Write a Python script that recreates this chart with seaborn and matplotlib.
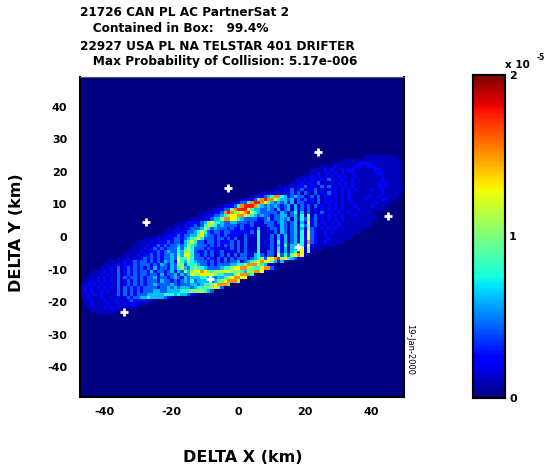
import numpy as np
import pandas as pd
import seaborn as sns
import matplotlib.pyplot as plt

sns.set_style("white")
plt.rcParams['font.family'] = ['DejaVu Sans']
plt.rcParams['font.weight'] = 'bold'
plt.rcParams['text.color'] = 'black'
plt.rcParams['xtick.labelcolor'] = 'black'
plt.rcParams['ytick.labelcolor'] = 'black'

# density, one digit per 1 km cell, "." = ten empty cells
first_row = 24
density_rows = [
    ". . . . . . . . 0000011111 1111100",
    ". . . . . . . 0000000011 1111111111 1111110",
    ". . . . . . . 0000011111 1112222111 1111110",
    ". . . . . . 0000000000 0011112111 1122112221 1111110",
    ". . . . . . 0000000001 1112121121 2211111122 1111110",
    ". . . . . . 0000000011 1211212121 1211111112 2111110",
    ". . . . . . 0000001112 1212121212 1121111111 2111110",
    ". . . . . . 0000111212 2121312121 1211111111 2111110",
    ". . . . . . 0001122122 1312121212 1211111112 1211110",
    ". . . . . 0000000001 1112122312 2131312122 1211111112 1211111",
    ". . . . . 0000000011 1213123122 3121212121 2121111211 2111111",
    ". . . . . 0000111122 1223231321 3121312121 2111111111 2111110",
    ". . . . 0000000000 0112234588 5423433123 1312212121 2111112112 1111100",
    ". . . . 0000000011 2235898875 4434232312 1312121121 2111121111 2211100",
    ". . . . 0000111233 5899875434 3424133212 1312212121 1211111121 1110000",
    ". . . . 0112223589 9985434343 2342413231 3121212121 1121111211 1100000",
    ". . . 0000000001 1223368999 7544334324 2341423131 2121212121 1112111111 1000000",
    ". . . 0000000111 2238986678 9754333332 4313524131 2131221211 2111111100",
    ". . . 0000011122 3345677887 6543433233 4423415161 3121212121 1121111110",
    ". . . 0001111223 4468877543 3332234233 4341425362 3121212121 1111111110",
    ". . 0000000001 1122223467 5543344333 2322133323 4313414272 3122121211 1111111000",
    ". . 0000000011 1212323576 5343333232 2321123322 4313415362 3112121211 1111111000",
    ". . 0000001112 1223334653 4333232232 2214112332 4313414263 2121212111 1111100000",
    ". . 0000011122 2233457532 3323322222 1315112131 4313425273 2112121111 1111000000",
    ". . 0001112223 2334467433 2323222213 1215111314 2413415273 2112111111 1100000000",
    ". 0000000001 1112122233 2345675333 2332323113 1115112314 2413425273 2111211111 1000000000",
    ". 0000000111 1212223233 2457533233 2322231313 1115121315 2413425283 2112111110",
    ". 0000001111 2123232334 3465433323 2323231313 1115112314 2514415272 1111111000",
    ". 0000011112 1232323335 3575333232 2212131313 2115111315 2414427261 1110000000",
    ". 0000111121 2223234335 4665322323 2231221313 1215113315 2424527161 1000000000",
    ". 0001111212 2323233436 4775332323 1231313133 2145313317 3536787110",
    "0000000001 0111212123 2323233437 5575333232 1323131333 2345637789 6754321000",
    "0000000011 1112123233 2323243427 5465433323 2323133423 4567877642 4100000000",
    "0000000111 1212123233 3232432436 6355543323 2333344556 8886542100",
    "0000001112 1312323232 3242332435 6435655433 3345567788 6655788310",
    "0000111212 1312323233 2423323424 3646778765 6677766654 6688710000",
    "0001112121 1312323233 2332423342 4347667777 6554446788 8500000000",
    "0011121212 1313233232 3342332343 2434445544 3445678877",
    "0112121212 1312323232 3332433232 3435344443 4567888600",
    "1121212121 1312323232 3343333432 3334434556 7888500000",
    "1212121212 1313232323 3332334343 4443455666 7630000000",
    "1212112121 1313132323 3344334444 5556666543",
    "1121212111 2313232333 4444455545 4432100000",
    "1121112112 1212323344 5444432100",
    "0112111211 2121232222 1100000000",
    "0112111121 1212122111",
    "0011111212 1211111000",
    "0001111111 1110000000",
    "0000011111",
]
# digit -> fraction of the colour scale
digit_levels = [0, 0.055, 0.13, 0.22, 0.31, 0.40, 0.52, 0.64, 0.76, 0.88]
scale_max = 2e-5

# white + marks
cross_x = [24, -3, -27.5, 45, 18, -8.5, -34]
cross_y = [26, 15, 4.6, 6.5, -3, -13, -23]

x_ticks = [-40, -20, 0, 20, 40]
y_ticks = [40, 30, 20, 10, 0, -10, -20, -30, -40]
cbar_ticks = [0, 1, 2]

title_lines = ["21726 CAN PL AC PartnerSat 2",
               "   Contained in Box:   99.4%",
               "22927 USA PL NA TELSTAR 401 DRIFTER",
               "   Max Probability of Collision: 5.17e-006"]

W, H = 545, 470
x_min, x_max = -47.3, 49.7
y_min, y_max = -49.2, 49.2
n_cols, n_rows = 97, 98

grid = np.zeros((n_rows, n_cols))
for i, r in enumerate(density_rows):
    cells = r.replace(" ", "").replace(".", "0" * 10).ljust(n_cols, "0")[:n_cols]
    grid[first_row + i] = [digit_levels[int(c)] * scale_max for c in cells]
density = pd.DataFrame(grid)


def to_col(x):
    return (np.asarray(x) - x_min) / (x_max - x_min) * n_cols


def to_row(y):
    return (y_max - np.asarray(y)) / (y_max - y_min) * n_rows


def box(left, top, right, bottom):
    return [left / W, 1 - bottom / H, (right - left) / W, (bottom - top) / H]


fig = plt.figure(figsize=(W / 100, H / 100), dpi=100)
ax = fig.add_axes(box(80, 77, 404, 397))
cax = fig.add_axes(box(473, 75, 505, 398))

sns.heatmap(density, ax=ax, cbar_ax=cax, cmap="jet", vmin=0, vmax=scale_max,
            xticklabels=False, yticklabels=False)

ax.plot(to_col(cross_x), to_row(cross_y), linestyle="none", marker="+",
        color="white", markersize=6, markeredgewidth=2)

ax.set_xticks(to_col(x_ticks))
ax.set_xticklabels(x_ticks, fontsize=8, fontweight="bold")
ax.set_yticks(to_row(y_ticks))
ax.set_yticklabels(y_ticks, fontsize=8, fontweight="bold", rotation=0)
ax.tick_params(direction="in", length=3, width=0.8, color="black", top=True, right=True,
               bottom=True, left=True)
ax.tick_params(axis="x", pad=7)
ax.tick_params(axis="y", pad=9)
for side, spine in ax.spines.items():
    spine.set_visible(True)
    spine.set_color("black")
    spine.set_linewidth(1.5)
ax.spines["top"].set_linewidth(0.8)
ax.spines["top"].set_color("#555555")

cax.yaxis.set_ticks([v * 1e-5 for v in cbar_ticks])
cax.yaxis.set_ticklabels(cbar_ticks, fontsize=8, fontweight="bold")
cax.tick_params(direction="in", length=0, pad=3)
for spine in cax.spines.values():
    spine.set_visible(True)
    spine.set_color("black")
    spine.set_linewidth(1.5)

for text, py in zip(title_lines, [12, 29, 46, 61]):
    fig.text(80 / W, 1 - py / H, text, fontsize=8.7, fontweight="bold", va="center", ha="left")

fig.text(243 / W, 1 - 457 / H, "DELTA X (km)", fontsize=11.5, fontweight="bold", ha="center", va="center")
fig.text(17 / W, 1 - 233 / H, "DELTA Y (km)", fontsize=11.5, fontweight="bold", rotation=90,
         ha="center", va="center")
fig.text(410 / W, 1 - 349 / H, "19-Jan-2000", fontsize=6, fontweight="normal", rotation=-90,
         ha="center", va="center")
fig.text(505 / W, 1 - 65 / H, "x 10", fontsize=7.5, fontweight="bold", va="center")
fig.text(537 / W, 1 - 57 / H, "-5", fontsize=5.5, fontweight="bold", va="center")

fig.savefig("out.png", dpi=100)
